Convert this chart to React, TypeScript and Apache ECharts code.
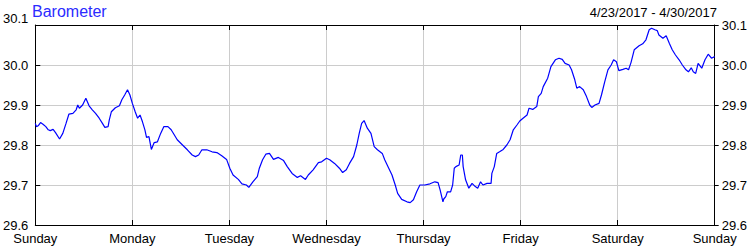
import React, { useEffect, useRef } from "react";
import * as echarts from "echarts";

const title = "Barometer";
const dateRange = "4/23/2017 - 4/30/2017";
const dayLabels = ["Sunday", "Monday", "Tuesday", "Wednesday", "Thursday", "Friday", "Saturday", "Sunday"];
const yTicks = [29.6, 29.7, 29.8, 29.9, 30.0, 30.1];

// hours since Sunday 00:00
const hours = [
  0, 0.3, 0.7, 1.3, 1.9, 2.6, 3.2, 3.7, 4.4, 5.0, 6.0, 6.8, 7.6, 8.3, 9.3, 10.1, 10.5, 10.9, 11.7, 12.5,
  13.3, 14.1, 14.9, 15.8, 16.6, 17.2, 18.0, 18.3, 18.8, 19.8, 20.8, 21.4, 22.1, 22.8, 23.4, 24.0, 24.7, 25.3, 25.9, 26.5,
  27.1, 27.5, 28.1, 28.7, 29.4, 30.2, 31.0, 31.8, 32.8, 33.6, 33.9, 35.1, 36.4, 37.6, 38.8, 39.6, 40.4, 41.2, 42.4, 43.7,
  44.9, 46.1, 47.3, 48.1, 48.9, 50.2, 51.1, 52.2, 52.8, 53.8, 54.9, 55.4, 56.2, 57.0, 57.9, 58.9, 60.1, 61.4, 62.3, 63.5,
  64.8, 65.6, 66.8, 67.5, 68.7, 70.0, 70.8, 72.0, 72.8, 74.0, 75.2, 76.0, 76.9, 77.7, 78.7, 79.5, 80.1, 80.7, 81.3, 82.1,
  83.0, 83.8, 84.6, 85.8, 86.4, 87.4, 88.2, 89.0, 89.6, 90.6, 91.9, 92.7, 93.5, 94.3, 95.1, 96.3, 97.6, 98.8, 99.6, 100.1,
  100.8, 101.0, 101.5, 101.9, 102.7, 103.2, 103.6, 104.0, 104.8, 105.2, 105.6, 105.8, 106.4, 107.2, 108.0, 108.8, 109.4, 110.1, 110.7, 111.7,
  112.7, 112.9, 113.5, 114.1, 114.8, 115.7, 116.6, 117.4, 118.2, 119.1, 119.8, 120.6, 121.6, 122.1, 123.0, 124.0, 124.4, 125.1, 125.6, 126.7,
  127.5, 128.6, 129.5, 130.3, 131.0, 132.0, 132.6, 133.4, 133.9, 134.6, 135.5, 136.3, 137.1, 137.6, 138.4, 139.4, 140.0, 140.8, 141.6, 142.4,
  143.0, 143.7, 144.3, 145.3, 146.1, 146.7, 147.3, 148.1, 149.3, 150.2, 151.0, 151.8, 152.4, 153.2, 153.8, 154.2, 155.2, 156.0, 156.8, 157.5,
  158.3, 159.2, 160.0, 160.9, 161.5, 162.2, 162.7, 163.3, 163.9, 164.8, 165.6, 166.4, 167.2, 168.0,
];

const pressure = [
  29.854, 29.846, 29.848, 29.856, 29.852, 29.846, 29.838, 29.836, 29.839, 29.831, 29.815, 29.829, 29.854, 29.877, 29.879, 29.888, 29.900, 29.892, 29.900, 29.917,
  29.898, 29.888, 29.879, 29.867, 29.854, 29.844, 29.846, 29.863, 29.883, 29.893, 29.898, 29.913, 29.925, 29.938, 29.925, 29.904, 29.883, 29.867, 29.875, 29.858,
  29.838, 29.819, 29.821, 29.789, 29.806, 29.808, 29.829, 29.846, 29.846, 29.838, 29.833, 29.813, 29.800, 29.788, 29.775, 29.771, 29.775, 29.788, 29.788, 29.783,
  29.781, 29.773, 29.764, 29.742, 29.725, 29.714, 29.703, 29.700, 29.694, 29.708, 29.721, 29.742, 29.763, 29.777, 29.779, 29.764, 29.769, 29.761, 29.746, 29.729,
  29.719, 29.723, 29.714, 29.725, 29.738, 29.756, 29.758, 29.767, 29.763, 29.754, 29.742, 29.731, 29.738, 29.754, 29.771, 29.800, 29.829, 29.854, 29.861, 29.842,
  29.829, 29.796, 29.788, 29.779, 29.763, 29.742, 29.725, 29.700, 29.679, 29.664, 29.658, 29.656, 29.663, 29.683, 29.700, 29.700, 29.703, 29.708, 29.706, 29.688,
  29.658, 29.665, 29.671, 29.683, 29.683, 29.700, 29.742, 29.746, 29.750, 29.775, 29.775, 29.746, 29.713, 29.692, 29.704, 29.696, 29.692, 29.708, 29.700, 29.704,
  29.704, 29.729, 29.746, 29.779, 29.783, 29.789, 29.800, 29.813, 29.838, 29.850, 29.860, 29.867, 29.875, 29.892, 29.889, 29.896, 29.921, 29.929, 29.946, 29.967,
  29.996, 30.013, 30.017, 30.014, 30.004, 30.000, 29.988, 29.963, 29.942, 29.946, 29.938, 29.921, 29.900, 29.894, 29.900, 29.904, 29.925, 29.958, 29.988, 30.000,
  30.013, 30.008, 29.986, 29.989, 29.992, 29.988, 30.006, 30.038, 30.048, 30.053, 30.063, 30.088, 30.092, 30.088, 30.086, 30.075, 30.067, 30.073, 30.054, 30.038,
  30.025, 30.013, 30.000, 29.988, 29.983, 29.993, 29.983, 29.979, 30.004, 29.992, 30.013, 30.027, 30.017, 30.021,
];

const FONT = "Arial, 'Liberation Sans', sans-serif";

export default function App() {
  const ref = useRef<HTMLDivElement>(null);
  useEffect(() => {
    document.body.style.margin = "0";
    if (!ref.current) return;
    const chart = echarts.init(ref.current, undefined, { renderer: "svg" });
    const data = hours.map((h, i) => [h, pressure[i]]);
    const yMin = yTicks[0];
    const yMax = yTicks[yTicks.length - 1];
    const fmtY = (v: number) => v.toFixed(1);
    chart.setOption({
      animation: false,
      backgroundColor: "#ffffff",
      textStyle: { fontFamily: FONT },
      grid: { left: 30, right: 30, top: 25, bottom: 25, containLabel: false },
      graphic: [
        {
          type: "text",
          left: 32,
          top: 3,
          style: { text: title, fontSize: 16, fill: "#2b2bff", fontFamily: FONT },
        },
        {
          type: "text",
          x: 717,
          y: 12.5,
          style: {
            text: dateRange,
            fontSize: 13,
            fill: "#000",
            fontFamily: FONT,
            textAlign: "right",
            textVerticalAlign: "middle",
          },
        },
      ],
      xAxis: [
        {
          type: "value",
          position: "bottom",
          min: 0,
          max: 168,
          interval: 24,
          axisLine: { show: true, lineStyle: { color: "#000", width: 1 } },
          axisTick: { show: true, inside: true, length: 5, lineStyle: { color: "#000" } },
          axisLabel: {
            show: true,
            margin: 7,
            fontSize: 13,
            color: "#000",
            fontFamily: FONT,
            showMinLabel: true,
            showMaxLabel: true,
            formatter: (v: number) => dayLabels[Math.round(v / 24)] ?? "",
          },
          splitLine: { show: true, lineStyle: { color: "#cccccc", width: 1 } },
        },
        {
          type: "value",
          position: "top",
          min: 0,
          max: 168,
          interval: 24,
          axisLine: { show: true, onZero: false, lineStyle: { color: "#000", width: 1 } },
          axisTick: { show: true, inside: true, length: 5, lineStyle: { color: "#000" } },
          axisLabel: { show: false },
          splitLine: { show: false },
        },
      ],
      yAxis: [
        {
          type: "value",
          position: "left",
          min: yMin,
          max: yMax,
          interval: 0.1,
          axisLine: { show: true, onZero: false, lineStyle: { color: "#000", width: 1 } },
          axisTick: { show: true, inside: true, length: 5, lineStyle: { color: "#000" } },
          axisLabel: {
            margin: 7,
            fontSize: 13,
            color: "#000",
            fontFamily: FONT,
            showMinLabel: true,
            showMaxLabel: true,
            formatter: (v: number) => (Math.abs(v - yMax) < 1e-6 ? "{top|" + fmtY(v) + "}" : fmtY(v)),
            rich: { top: { fontSize: 13, color: "#000", fontFamily: FONT, padding: [0, 0, 14, 0] } },
          },
          splitLine: { show: true, lineStyle: { color: "#cccccc", width: 1 } },
        },
        {
          type: "value",
          position: "right",
          min: yMin,
          max: yMax,
          interval: 0.1,
          axisLine: { show: true, onZero: false, lineStyle: { color: "#000", width: 1 } },
          axisTick: { show: true, inside: false, length: 4, lineStyle: { color: "#000" } },
          axisLabel: {
            margin: 7,
            fontSize: 13,
            color: "#000",
            fontFamily: FONT,
            showMinLabel: true,
            showMaxLabel: true,
            formatter: fmtY,
          },
          splitLine: { show: false },
        },
      ],
      series: [
        {
          type: "line",
          xAxisIndex: 0,
          yAxisIndex: 0,
          data,
          showSymbol: false,
          symbol: "none",
          lineStyle: { color: "#0000ff", width: 1.2 },
        },
      ],
    });
    return () => chart.dispose();
  }, []);
  return <div ref={ref} style={{ width: 750, height: 250 }} />;
}
